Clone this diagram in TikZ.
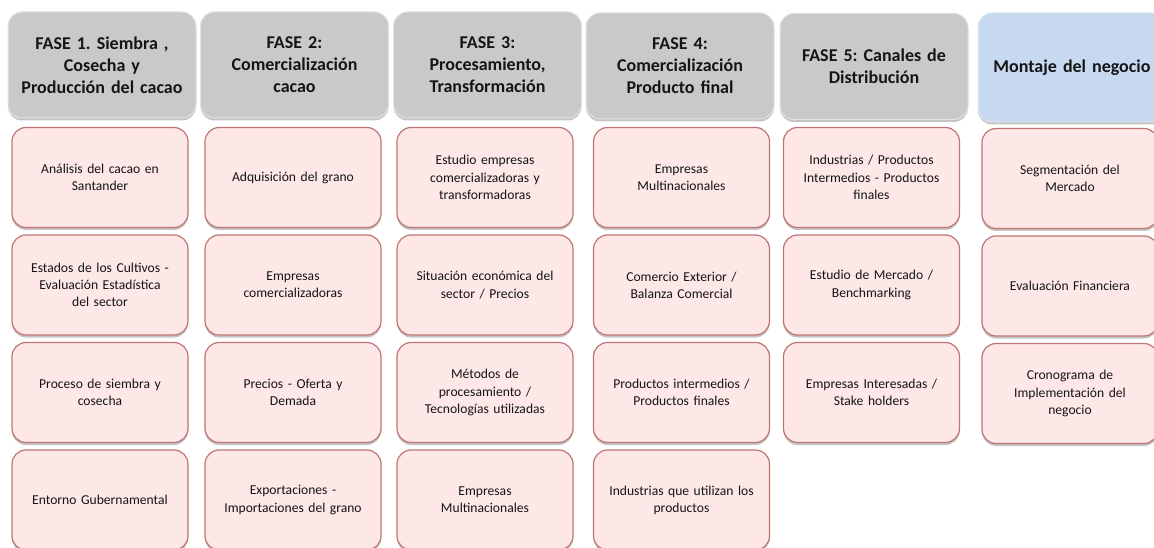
\documentclass[tikz,border=0pt]{standalone}
\usepackage{fontspec}
\setmainfont{Carlito}
\usetikzlibrary{shadows}
\frenchspacing
\definecolor{hdrgray}{HTML}{C9C9C9}
\definecolor{hdredge}{HTML}{E2E2E2}
\definecolor{hdrblue}{HTML}{C6D9F1}
\definecolor{blueedge}{HTML}{DCE6F2}
\definecolor{pinkfill}{HTML}{FEE7E7}
\definecolor{pinkedge}{HTML}{BF7573}
\definecolor{txt}{HTML}{151515}
\tikzset{
  hdr/.style={rounded corners=14pt, minimum width=188pt, minimum height=106pt,
    text width=182pt, inner sep=3pt, align=center, text=txt,
    font=\fontsize{18}{22}\selectfont\bfseries\frenchspacing,
    fill=hdrgray, draw=hdredge, line width=1pt,
    drop shadow={opacity=0.45, shadow xshift=0pt, shadow yshift=-2.5pt}},
  hdrb/.style={hdr, fill=hdrblue, draw=blueedge},
  cell/.style={rounded corners=14pt, minimum width=176pt, minimum height=100pt,
    text width=170pt, inner sep=3pt, align=center, text=txt,
    font=\fontsize{13.6}{17.2}\selectfont\frenchspacing,
    fill=pinkfill, draw=pinkedge, line width=1.2pt,
    drop shadow={opacity=0.45, shadow xshift=0pt, shadow yshift=-2.5pt}}
}
\begin{document}
\begin{tikzpicture}[x=1pt,y=-1pt]
\useasboundingbox (0,0) rectangle (1154,548);
\fill[white] (0,0) rectangle (1154,548);
% headers
\node[hdr] (h1) at (102,65) {FASE 1. Siembra ,\\Cosecha y\\Producción del cacao};
\node[hdr] (h2) at (294.5,65) {FASE 2:\\Comercialización\\cacao};
\node[hdr] (h3) at (487.5,65) {FASE 3:\\Procesamiento,\\Transformación};
\node[hdr] (h4) at (680,66) {FASE 4:\\Comercialización\\Producto final};
\node[hdr] (h5) at (874,66.5) {FASE 5: Canales de\\Distribución};
\node[hdrb, minimum height=109pt] (h6) at (1072,67.5) {Montaje del negocio};
% column 1
\node[cell] (b11) at (100,177.5) {Análisis del cacao en\\Santander};
\node[cell] (b12) at (100,285) {Estados de los Cultivos -\\Evaluación Estadística\\del sector};
\node[cell] (b13) at (100,392.5) {Proceso de siembra y\\cosecha};
\node[cell] (b14) at (100,500) {Entorno Gubernamental};
% column 2
\node[cell] (b21) at (293,177.5) {Adquisición del grano};
\node[cell] (b22) at (293,285) {Empresas\\comercializadoras};
\node[cell] (b23) at (293,392.5) {Precios - Oferta y\\Demada};
\node[cell] (b24) at (293,500) {Exportaciones -\\Importaciones del grano};
% column 3
\node[cell] (b31) at (485,177.5) {Estudio empresas\\comercializadoras y\\transformadoras};
\node[cell] (b32) at (485,285) {Situación económica del\\sector / Precios};
\node[cell] (b33) at (485,392.5) {Métodos de\\procesamiento /\\Tecnologías utilizadas};
\node[cell] (b34) at (485,500) {Empresas\\Multinacionales};
% column 4
\node[cell] (b41) at (681.5,177.5) {Empresas\\Multinacionales};
\node[cell] (b42) at (681.5,285) {Comercio Exterior /\\Balanza Comercial};
\node[cell] (b43) at (681.5,392.5) {Productos intermedios /\\Productos finales};
\node[cell] (b44) at (681.5,500) {Industrias que utilizan los\\productos};
% column 5
\node[cell] (b51) at (871.5,177.5) {Industrias / Productos\\Intermedios - Productos\\finales};
\node[cell] (b52) at (871.5,285) {Estudio de Mercado /\\Benchmarking};
\node[cell] (b53) at (871.5,392.5) {Empresas Interesadas /\\Stake holders};
% column 6
\node[cell] (b61) at (1070,178.5) {Segmentación del\\Mercado};
\node[cell] (b62) at (1070,286) {Evaluación Financiera};
\node[cell] (b63) at (1070,393.5) {Cronograma de\\Implementación del\\negocio};
\end{tikzpicture}
\end{document}
